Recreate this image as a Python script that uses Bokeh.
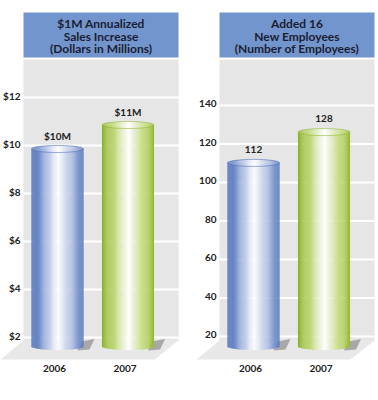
import numpy as np
from bokeh.plotting import figure
from bokeh.layouts import row
from bokeh.models import Range1d
from bokeh.core.properties import value
from bokeh.embed import file_html
from bokeh.resources import INLINE

# ---------------- data ----------------
years = ["2006", "2007"]

sales = [10, 11]
sales_labels = ["$10M", "$11M"]
sales_ticks = [2, 4, 6, 8, 10, 12]
sales_tick_labels = ["$2", "$4", "$6", "$8", "$10", "$12"]
sales_title = ["$1M Annualized", "Sales Increase", "(Dollars in Millions)"]

employees = [112, 128]
employee_labels = ["112", "128"]
employee_ticks = [20, 40, 60, 80, 100, 120, 140]
employee_tick_labels = ["20", "40", "60", "80", "100", "120", "140"]
employee_title = ["Added 16", "New Employees", "(Number of Employees)"]

FONT = value("Lato")
H = 400

BLUE = [(0.0, "#4a6eb6"), (0.18, "#7b95cf"), (0.42, "#dfe6f5"), (0.52, "#ffffff"),
        (0.62, "#dde3f3"), (0.84, "#9aaddb"), (1.0, "#5274bc")]
GREEN = [(0.0, "#8db32d"), (0.18, "#b2cf5e"), (0.42, "#ecf4d8"), (0.52, "#ffffff"),
         (0.62, "#e8f1cf"), (0.84, "#bcd66c"), (1.0, "#96ba35")]
BAR_STOPS = [BLUE, GREEN]


def hex2rgb(h):
    h = h.lstrip("#")
    return np.array([int(h[i:i + 2], 16) for i in (0, 2, 4)], dtype=float)


def grad(stops, f, lighten=0.0):
    for (a, ca), (b, cb) in zip(stops[:-1], stops[1:]):
        if a <= f <= b:
            t = (f - a) / (b - a) if b > a else 0
            c = hex2rgb(ca) * (1 - t) + hex2rgb(cb) * t
            c = c * (1 - lighten) + 255 * lighten
            return "#%02x%02x%02x" % tuple(int(round(v)) for v in c)
    return stops[-1][1]


def panel(width, px0, vals, labels, ticks, tick_labels, title, v0, y0ref, ppu):
    # local layout pixel -> data helpers (figure pixel 0 == local px0)
    PX = 70.5
    def xd(r):
        return (r - 57.0) / PX
    def yd(r):
        return v0 + (y0ref - r) / ppu

    p = figure(width=width, height=H, x_range=Range1d(xd(px0), xd(px0 + width)),
               y_range=Range1d(yd(H), yd(0)), output_backend="svg",
               toolbar_location=None, min_border=0, x_axis_type=None, y_axis_type=None,
               outline_line_color=None, background_fill_color="white",
               border_fill_color="white")
    p.grid.visible = False

    # header box
    p.quad(left=xd(23), right=xd(178), top=yd(12), bottom=yd(57),
           fill_color="#7195cc", line_color=None)
    p.text(x=[xd(100.5)] * 3, y=[yd(23), yd(35.5), yd(48)], text=title,
           text_font=FONT, text_font_style="bold", text_font_size="12px",
           text_color="#1c1d33", text_align="center", text_baseline="middle")

    # grey back panel + floor
    p.quad(left=xd(23), right=xd(178), top=yd(59), bottom=yd(341),
           fill_color="#e6e6e6", line_color=None)
    p.patch(x=[xd(0), xd(154), xd(178), xd(23)], y=[yd(359), yd(359), yd(340), yd(340)],
            fill_color="#e8e8e8", line_color=None)

    # grid lines
    p.segment(x0=[xd(23)] * len(ticks), x1=[xd(178)] * len(ticks), y0=ticks, y1=ticks,
              line_color="white", line_width=2)
    p.text(x=[xd(20)] * len(ticks), y=ticks, text=tick_labels, y_offset=-2,
           text_font=FONT, text_font_style="bold", text_font_size="10px",
           text_color="#222222", text_align="right", text_baseline="middle")

    hw = 26.0 / PX
    base = yd(346)
    hb = 3.5 / ppu
    hc = 3.5 / ppu
    N = 48
    edges = np.linspace(-1, 1, N + 1)
    mids = (edges[:-1] + edges[1:]) / 2
    sw = 2 * hw / N

    for i, v in enumerate(vals):
        stops = BAR_STOPS[i]
        # shadow on floor
        R = i + hw
        p.patch(x=[R - 6 / PX, R - 2 / PX, R + 11 / PX, R + 6 / PX],
                y=[yd(350), yd(341), yd(338.5), yd(349)],
                fill_color="#7d7d7d", fill_alpha=0.6, line_color=None)
        cy = v - hc
        xs = i + mids * hw
        s = np.sqrt(np.clip(1 - mids ** 2, 0, 1))
        cols = [grad(stops, (m + 1) / 2) for m in mids]
        capcols = [grad(stops, (m + 1) / 2, 0.2) for m in mids]
        p.vbar(x=xs, width=sw * 1.15, top=[cy] * N, bottom=base - hb * s,
               fill_color=cols, line_color=None)
        p.vbar(x=xs, width=sw * 1.15, top=cy + hc * s, bottom=cy - hc * s,
               fill_color=capcols, line_color=None)
        p.ellipse(x=[i], y=[cy], width=[2 * hw], height=[2 * hc], fill_color=None,
                  line_color=grad(stops, 0.0), line_alpha=0.7, line_width=0.8)

    # value labels
    p.text(x=[0, 1], y=vals, text=labels, y_offset=-10,
           text_font=FONT, text_font_style="bold", text_font_size="10px",
           text_color="#222222", text_align="center", text_baseline="middle")
    # category labels
    p.text(x=[0, 1], y=[yd(368)] * 2, text=years, x_offset=-3,
           text_font=FONT, text_font_style="bold", text_font_size="10px",
           text_color="#222222", text_align="center", text_baseline="middle")
    return p


left = panel(190, 0, sales, sales_labels, sales_ticks, sales_tick_labels, sales_title,
             2.0, 337.0, 24.0)
right_ = panel(188, -6, employees, employee_labels, employee_ticks, employee_tick_labels,
               employee_title, 20.0, 336.0, 1.925)

layout = row(left, right_)
open("out.html", "w").write(file_html(layout, INLINE))
